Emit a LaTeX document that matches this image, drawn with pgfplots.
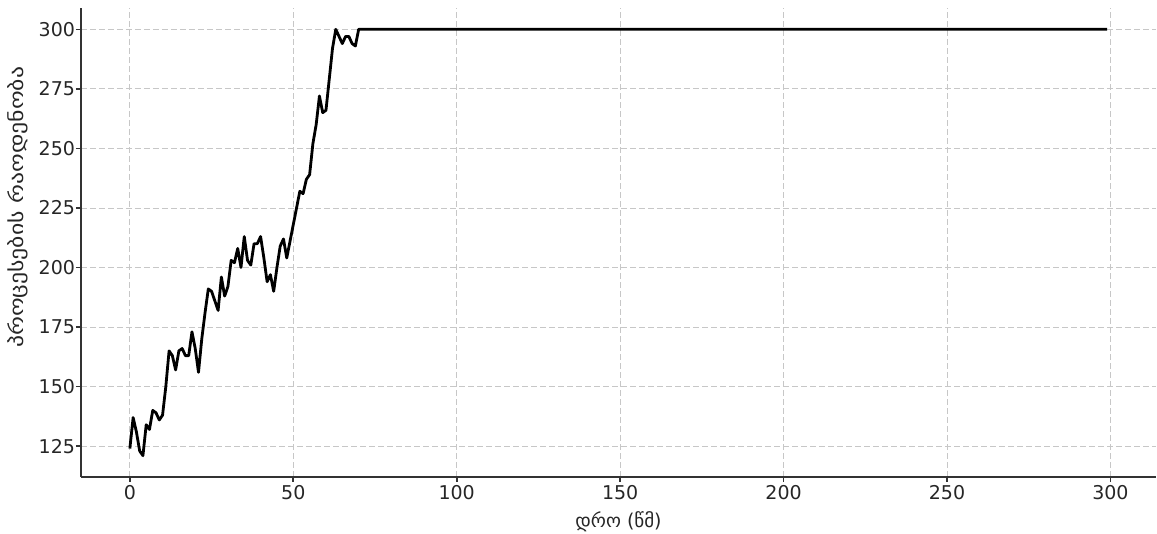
\documentclass[border=0pt]{standalone}
\usepackage{pgfplots}
\pgfplotsset{compat=1.18}
\usepackage{pgfplotstable}
\usepackage{fontspec}
\setmainfont{DejaVu Sans}
\newfontfamily\labelfont[FakeStretch=1.25]{DejaVu Sans}

% number of processes over time (s)
\pgfplotstableread{
t   n
0   124
1   137
2   131
3   123
4   121
5   134
6   132
7   140
8   139
9   136
10  138
11  150
12  165
13  163
14  157
15  165
16  166
17  163
18  163
19  173
20  166
21  156
22  170
23  181
24  191
25  190
26  186
27  182
28  196
29  188
30  192
31  203
32  202
33  208
34  200
35  213
36  203
37  201
38  210
39  210
40  213
41  204
42  194
43  197
44  190
45  200
46  209
47  212
48  204
49  211
50  218
51  225
52  232
53  231
54  237
55  239
56  252
57  260
58  272
59  265
60  266
61  279
62  292
63  300
64  297
65  294
66  297
67  297
68  294
69  293
70  300
100 300
150 300
200 300
250 300
299 300
}\proctable

\begin{document}
\begin{tikzpicture}
\begin{axis}[
  scale only axis,
  width=537.5pt, height=234.5pt,
  xmin=-14.95, xmax=313.95,
  ymin=112.05, ymax=308.95,
  axis x line*=bottom, axis y line*=left,
  axis line style={-, color=black!80, line width=0.8pt},
  xtick={0,50,...,300},
  ytick={125,150,...,300},
  tick align=outside,
  major tick length=2.5pt,
  tick style={color=black!80, line width=0.8pt},
  grid=major,
  grid style={dash pattern=on 3pt off 1.5pt, color=black!22, line width=0.45pt},
  /pgf/number format/assume math mode=true,
  ticklabel style={font=\fontsize{9.5}{11}\selectfont, color=black!85},
  yticklabel style={xshift=3pt},
  xticklabel style={yshift=2pt},
  xlabel={დრო (წმ)},
  ylabel={პროცესების რაოდენობა},
  xlabel style={font=\fontsize{9.5}{11}\selectfont, color=black!85,
    at={(axis description cs:0.5,-0.095)}, anchor=center},
  ylabel style={font=\labelfont\fontsize{9.5}{11}\selectfont, color=black!85,
    at={(axis description cs:-0.059,0.575)}, anchor=center},
]
\addplot[black, line width=1.4pt, line join=round] table[x=t, y=n] {\proctable};
\end{axis}
\pgfresetboundingbox
\path[use as bounding box] (-40.5pt,-28.5pt) rectangle (538pt,238.5pt);
\end{tikzpicture}
\end{document}
